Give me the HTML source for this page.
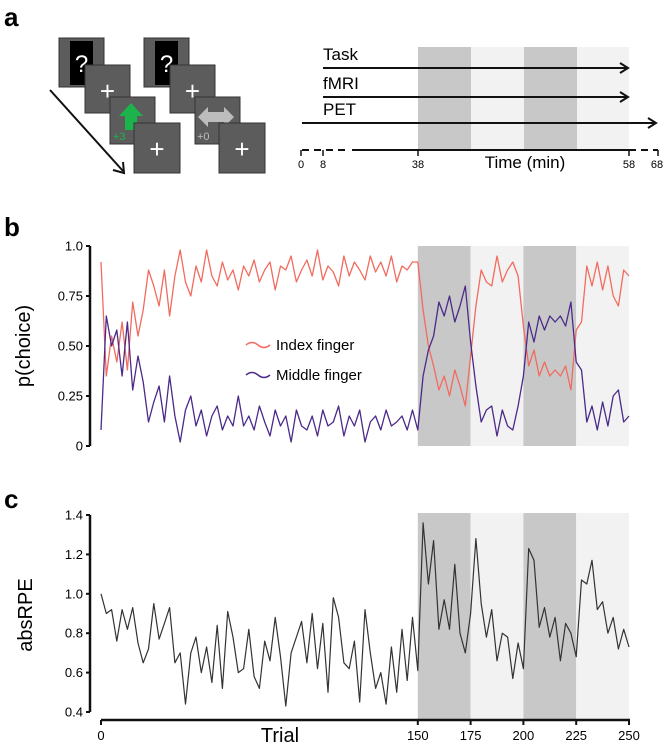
<!DOCTYPE html>
<html><head><meta charset="utf-8"><style>
html,body{margin:0;padding:0;background:#fff}
svg{display:block;font-family:"Liberation Sans",sans-serif}
</style></head><body>
<svg id="fig" width="666" height="747" viewBox="0 0 666 747">
<text x="4" y="26" font-size="26" font-weight="bold">a</text>
<text x="4" y="236" font-size="26" font-weight="bold">b</text>
<text x="4" y="508" font-size="26" font-weight="bold">c</text>

<g>
  <line x1="50" y1="90" x2="123" y2="171" stroke="#111" stroke-width="2"/>
  <polyline points="113,170 124,173 123,162" fill="none" stroke="#111" stroke-width="2"/>
  <g>
    <rect x="59" y="38" width="45" height="49" fill="#5c5c5c" stroke="#333"/>
    <rect x="70" y="41" width="23" height="44" fill="#000"/>
    <text x="81.5" y="72" font-size="24" fill="#fff" text-anchor="middle">?</text>
    <rect x="85" y="65" width="45" height="48" fill="#5c5c5c" stroke="#333"/>
    <text x="107.5" y="100" font-size="26" fill="#fff" text-anchor="middle">+</text>
    <rect x="110" y="97" width="45" height="47" fill="#5c5c5c" stroke="#333"/>
    <polygon points="131,103 143,116 137,116 137,130 125,130 125,116 119,116" fill="#1db34c"/>
    <text x="113" y="140" font-size="11" fill="#1db34c">+3</text>
    <rect x="134" y="123" width="46" height="50" fill="#5c5c5c" stroke="#333"/>
    <text x="157" y="158" font-size="26" fill="#fff" text-anchor="middle">+</text>
  </g>
  <g>
    <rect x="144" y="38" width="45" height="49" fill="#5c5c5c" stroke="#333"/>
    <rect x="155" y="41" width="23" height="44" fill="#000"/>
    <text x="166.5" y="72" font-size="24" fill="#fff" text-anchor="middle">?</text>
    <rect x="170" y="65" width="45" height="48" fill="#5c5c5c" stroke="#333"/>
    <text x="192.5" y="100" font-size="26" fill="#fff" text-anchor="middle">+</text>
    <rect x="195" y="97" width="45" height="47" fill="#5c5c5c" stroke="#333"/>
    <polygon points="198,117 208,107 208,112 224,112 224,107 234,117 224,127 224,122 208,122 208,127" fill="#bdbdbd"/>
    <text x="197" y="140" font-size="11" fill="#bbb">+0</text>
    <rect x="219" y="123" width="46" height="50" fill="#5c5c5c" stroke="#333"/>
    <text x="242" y="158" font-size="26" fill="#fff" text-anchor="middle">+</text>
  </g>
</g>

<g>
  <rect x="418" y="47" width="53" height="103" fill="#c8c8c8"/>
  <rect x="471" y="47" width="53" height="103" fill="#f2f2f2"/>
  <rect x="524" y="47" width="53" height="103" fill="#c8c8c8"/>
  <rect x="577" y="47" width="52" height="103" fill="#f2f2f2"/>
  <text x="323" y="60" font-size="17">Task</text>
  <line x1="323" y1="68" x2="626" y2="68" stroke="#111" stroke-width="2"/>
  <polyline points="620,63 628,68 620,73" fill="none" stroke="#111" stroke-width="2"/>
  <text x="323" y="89" font-size="17">fMRI</text>
  <line x1="323" y1="97" x2="626" y2="97" stroke="#111" stroke-width="2"/>
  <polyline points="620,92 628,97 620,102" fill="none" stroke="#111" stroke-width="2"/>
  <text x="323" y="115" font-size="17">PET</text>
  <line x1="302" y1="123" x2="654" y2="123" stroke="#111" stroke-width="2"/>
  <polyline points="648,118 656,123 648,128" fill="none" stroke="#111" stroke-width="2"/>
  <line x1="302" y1="150" x2="350" y2="150" stroke="#111" stroke-width="2" stroke-dasharray="7,5"/>
  <line x1="352" y1="150" x2="629" y2="150" stroke="#111" stroke-width="2"/>
  <line x1="629" y1="150" x2="658" y2="150" stroke="#111" stroke-width="2" stroke-dasharray="7,5"/>
  <g stroke="#111" stroke-width="1.5">
    <line x1="301" y1="150" x2="301" y2="156"/><line x1="323" y1="150" x2="323" y2="156"/>
    <line x1="418" y1="150" x2="418" y2="156"/><line x1="629" y1="150" x2="629" y2="156"/>
    <line x1="658" y1="150" x2="658" y2="156"/>
  </g>
  <g font-size="11" text-anchor="middle">
    <text x="301" y="168">0</text><text x="323" y="168">8</text><text x="418" y="168">38</text>
    <text x="629" y="168">58</text><text x="657" y="168">68</text>
  </g>
  <text x="525" y="168" font-size="17" text-anchor="middle">Time (min)</text>
</g>

<g id="chartB"></g>
<g id="chartC"></g>
</svg>
<script>
const indexFinger=[0.92,0.35,0.55,0.42,0.62,0.38,0.72,0.55,0.68,
0.88,0.80,0.70,0.88,0.65,0.85,0.98,0.82,
0.75,0.90,0.82,0.98,0.85,0.80,0.92,0.83,0.88,0.78,0.90,0.85,0.93,0.82,0.88,0.92,0.78,0.90,0.88,0.95,0.82,0.88,0.93,0.85,0.98,0.83,0.90,0.87,0.80,0.95,0.85,0.92,0.88,0.83,0.95,0.87,0.92,0.85,0.95,0.82,0.90,0.88,0.92,
0.92,0.68,0.50,0.40,0.28,0.35,0.25,0.38,0.30,0.20,
0.45,0.70,0.88,0.82,0.80,0.95,0.82,0.88,0.92,0.85,
0.60,0.40,0.48,0.35,0.42,0.35,0.38,0.35,0.40,0.28,
0.58,0.62,0.90,0.80,0.92,0.78,0.90,0.75,0.70,0.88,0.85];
const middleFinger=[0.08,0.65,0.50,0.58,0.35,0.62,0.28,0.45,0.32,
0.12,0.22,0.30,0.12,0.35,0.15,0.02,0.18,
0.25,0.10,0.18,0.05,0.15,0.20,0.08,0.15,0.10,0.25,0.10,0.15,0.08,0.20,0.12,0.05,0.18,0.10,0.15,0.02,0.18,0.10,0.08,0.15,0.05,0.18,0.10,0.12,0.20,0.05,0.15,0.10,0.18,0.02,0.12,0.15,0.08,0.18,0.10,0.12,0.15,0.08,0.18,
0.08,0.35,0.48,0.55,0.72,0.65,0.75,0.62,0.70,0.80,
0.52,0.30,0.12,0.18,0.20,0.05,0.18,0.10,0.08,0.20,
0.35,0.62,0.52,0.65,0.58,0.65,0.62,0.65,0.60,0.72,
0.42,0.38,0.12,0.20,0.08,0.22,0.10,0.25,0.28,0.12,0.15];
const absRPE=[1.0,0.90,0.92,0.76,0.92,0.82,0.93,0.75,0.65,
0.72,0.95,0.77,0.85,0.93,0.65,0.70,0.44,
0.70,0.78,0.60,0.73,0.55,0.84,0.52,0.91,0.78,0.60,0.62,0.82,0.58,0.52,0.76,0.66,0.88,0.68,0.43,0.70,0.78,0.86,0.65,0.90,0.62,0.85,0.50,0.98,0.88,0.65,0.62,0.76,0.45,0.92,0.70,0.52,0.60,0.44,0.73,0.50,0.82,0.56,0.88,
0.61,1.36,1.05,1.27,0.82,0.97,0.82,1.15,0.80,0.70,
0.90,1.28,0.95,0.78,0.92,0.66,0.80,0.78,0.57,0.75,
0.62,1.23,1.17,0.83,0.93,0.78,0.88,0.66,0.85,0.80,
0.68,1.07,1.05,1.17,0.92,0.96,0.80,0.88,0.72,0.82,0.73];
const bTicks=[0,0.25,0.5,0.75,1.0];
const bTickLabels=["0","0.25","0.50","0.75","1.0"];
const cTicks=[0.4,0.6,0.8,1.0,1.2,1.4];
const cTickLabels=["0.4","0.6","0.8","1.0","1.2","1.4"];
const xTicks=[0,150,175,200,225,250];
const shadeBlocks=[[150,175,"#c8c8c8"],[175,200,"#f2f2f2"],[200,225,"#c8c8c8"],[225,250,"#f2f2f2"]];

const NS="http://www.w3.org/2000/svg";
function mk(p,t,a){const e=document.createElementNS(NS,t);for(const k in a)e.setAttribute(k,a[k]);p.appendChild(e);return e;}
const xS=t=>101+t*(629-101)/250;
const xIdx=(i,n)=>xS(i*250/(n-1));

function shading(g,top,bot){
  shadeBlocks.forEach(b=>{
    const r=mk(g,"rect",{x:xS(b[0]),y:top,width:xS(b[1])-xS(b[0]),height:bot-top,fill:b[2]});
    
    
  });
}
function line(g,arr,yS,color,w,name){
  const pts=arr.map((v,i)=>xIdx(i,arr.length).toFixed(1)+","+yS(v).toFixed(1)).join(" ");
  const p=mk(g,"polyline",{points:pts,fill:"none",stroke:color,"stroke-width":w,"stroke-linejoin":"round"});
  
  
}
function yAxis(g,ticks,labels,yS,x){
  const a=mk(g,"line",{x1:x,y1:yS(ticks[ticks.length-1]),x2:x,y2:yS(ticks[0]),stroke:"#111","stroke-width":2.5});
  
  
  ticks.forEach((t,i)=>{
    mk(g,"line",{x1:x-4,y1:yS(t),x2:x,y2:yS(t),stroke:"#111","stroke-width":2});
    const tx=mk(g,"text",{x:x-7,y:yS(t)+4.5,"font-size":13,"text-anchor":"end"});
    tx.textContent=labels[i];
    
    
  });
}
// Panel B
const gB=document.getElementById("chartB");
const yB=v=>446-v*200;
shading(gB,246,446);
yAxis(gB,bTicks,bTickLabels,yB,90);
line(gB,indexFinger,yB,"#f26b5f",1.3,"index-finger-line");
line(gB,middleFinger,yB,"#4b2a8a",1.3,"middle-finger-line");
const tb=mk(gB,"text",{x:30,y:346,"font-size":20,"text-anchor":"middle",transform:"rotate(-90 30 346)"});
tb.textContent="p(choice)";


[["Index finger","#f26b5f",345],["Middle finger","#4b2a8a",375]].forEach(l=>{
  const lg=mk(gB,"g",{});
  
  
  mk(lg,"path",{d:`M246 ${l[2]} q6 -5 12 0 t12 0`,fill:"none",stroke:l[1],"stroke-width":1.5});
  const t=mk(lg,"text",{x:276,y:l[2]+5,"font-size":15});
  t.textContent=l[0];
});
// Panel C
const gC=document.getElementById("chartC");
const yC=v=>712-(v-0.4)*197;
shading(gC,513,719);
yAxis(gC,cTicks,cTickLabels,yC,90);
line(gC,absRPE,yC,"#333",1.2,"absrpe-line");
const xa=mk(gC,"line",{x1:101,y1:720,x2:630,y2:720,stroke:"#111","stroke-width":2.5});


xTicks.forEach(t=>{
  mk(gC,"line",{x1:xS(t),y1:720,x2:xS(t),y2:725,stroke:"#111","stroke-width":2});
  const tx=mk(gC,"text",{x:xS(t),y:740,"font-size":13,"text-anchor":"middle"});
  tx.textContent=String(t);
  
  
});
const tt=mk(gC,"text",{x:280,y:742,"font-size":20,"text-anchor":"middle"});
tt.textContent="Trial";


const tc=mk(gC,"text",{x:32,y:615,"font-size":20,"text-anchor":"middle",transform:"rotate(-90 32 615)"});
tc.textContent="absRPE";


</script>
</body></html>
